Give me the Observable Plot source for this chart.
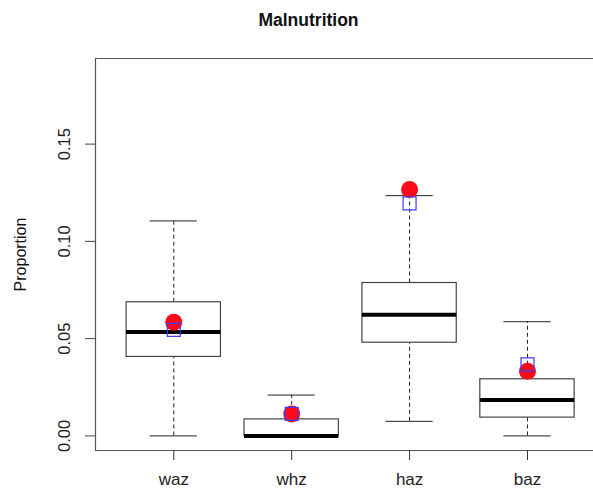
<!DOCTYPE html>
<html>
<head>
<meta charset="utf-8">
<script src="https://cdn.jsdelivr.net/npm/d3@7"></script>
<script src="https://cdn.jsdelivr.net/npm/@observablehq/plot@0.6"></script>
<style>
  html, body { margin: 0; padding: 0; background: #fff; overflow: hidden; }
  svg { display: block; }
</style>
</head>
<body>
<div id="chart"></div>
<script>
// Malnutrition indicators: box-plot summaries of the proportion per indicator
const categories = ["waz", "whz", "haz", "baz"];
const lowerWhisker = [0.000, 0.000, 0.0075, 0.000];
const lowerQuartile = [0.0406, 0.000, 0.0479, 0.0094];
const medians = [0.0534, 0.000, 0.0623, 0.0185];
const upperQuartile = [0.0687, 0.0085, 0.0786, 0.0291];
const upperWhisker = [0.1105, 0.0210, 0.1235, 0.0587];
// Point estimates overlaid on each box
const observed = [0.0584, 0.0113, 0.1267, 0.0332];   // red dots
const estimated = [0.0545, 0.0113, 0.1195, 0.0368];  // blue squares

const yTicks = [0, 0.05, 0.10, 0.15];
const xLimits = [0.336, 4.56];
const yLimits = [-0.0075, 0.194];

const boxes = categories.map((name, i) => ({
  name,
  pos: i + 1,
  lo: lowerWhisker[i],
  q1: lowerQuartile[i],
  med: medians[i],
  q3: upperQuartile[i],
  hi: upperWhisker[i],
  obs: observed[i],
  est: estimated[i]
}));

const halfBox = 0.4;
const halfCap = 0.2;
const font = "'Liberation Sans', Arial, Helvetica, sans-serif";

const chart = Plot.plot({
  width: 593,
  height: 488,
  marginLeft: 95,
  marginRight: 0,
  marginTop: 58,
  marginBottom: 38,
  style: { fontFamily: font, fontSize: "16px", color: "#222", background: "#fff" },
  x: { type: "linear", domain: xLimits },
  y: { type: "linear", domain: yLimits },
  marks: [
    // plot frame (left, top, bottom)
    Plot.ruleX([xLimits[0]], { stroke: "#555", strokeWidth: 1.2 }),
    Plot.ruleY(yLimits, { stroke: "#555", strokeWidth: 1.2 }),
    // axes
    Plot.axisY({
      ticks: yTicks, tickFormat: d3.format(".2f"), tickRotate: -90,
      tickSize: 10, tickPadding: 16, stroke: "#444", label: null, fontSize: 16.5
    }),
    Plot.axisX({
      ticks: [1, 2, 3, 4], tickFormat: d => categories[d - 1],
      tickSize: 10, tickPadding: 12, stroke: "#333", label: null, fontSize: 17
    }),
    // whiskers
    Plot.ruleX(boxes, { x: "pos", y1: "q3", y2: "hi", stroke: "#222", strokeDasharray: "4,3" }),
    Plot.ruleX(boxes, { x: "pos", y1: "lo", y2: "q1", stroke: "#222", strokeDasharray: "4,3" }),
    Plot.ruleY(boxes, { y: "hi", x1: d => d.pos - halfCap, x2: d => d.pos + halfCap, stroke: "#222" }),
    Plot.ruleY(boxes, { y: "lo", x1: d => d.pos - halfCap, x2: d => d.pos + halfCap, stroke: "#222" }),
    // boxes and medians
    Plot.rect(boxes, {
      x1: d => d.pos - halfBox, x2: d => d.pos + halfBox, y1: "q1", y2: "q3",
      fill: "white", stroke: "#444", strokeWidth: 1.2
    }),
    Plot.ruleY(boxes, {
      y: "med", x1: d => d.pos - halfBox, x2: d => d.pos + halfBox,
      stroke: "black", strokeWidth: 4
    }),
    // point estimates
    Plot.dot(boxes, { x: "pos", y: "obs", r: 8.5, fill: "#ff0a1a", stroke: "none" }),
    Plot.dot(boxes, { x: "pos", y: "est", r: 7.3, symbol: "square", fill: "none", stroke: "#3b3bff", strokeWidth: 1.2 }),
    // y-axis title
    Plot.text(["Proportion"], {
      frameAnchor: "left", dx: -75, rotate: -90, fontSize: 16,
      textAnchor: "middle", lineAnchor: "middle", fill: "#111"
    }),
    // chart title
    Plot.text(["Malnutrition"], {
      frameAnchor: "top-left", dx: 213, dy: -38, fontSize: 17.5, fontWeight: "bold",
      textAnchor: "middle", lineAnchor: "middle", fill: "#111"
    })
  ]
});

document.getElementById("chart").appendChild(chart);
</script>
</body>
</html>
